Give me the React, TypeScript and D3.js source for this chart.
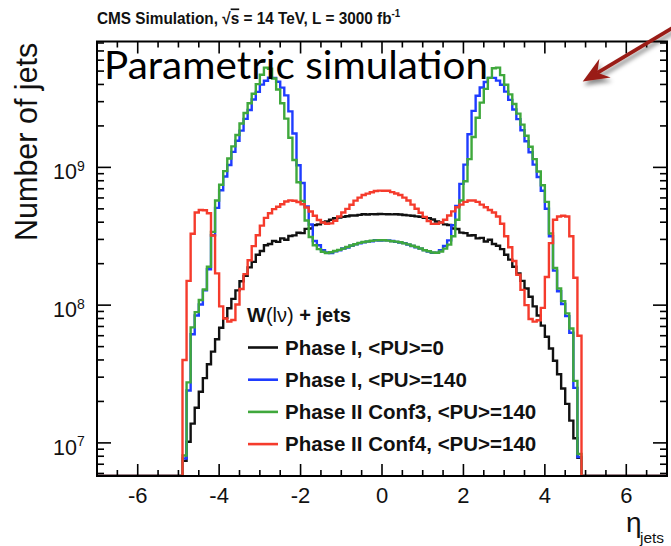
import React from "react";
import * as d3 from "d3";

const W = 671;
const H = 546;

// 98 bins of width 0.1 covering -4.9 < eta < 4.9; counts are in millions of jets per bin
const BIN_LOW = -4.9;
const BIN_WIDTH = 0.1;
const UNIT = 1e6;

const phase1PU0 = [
  7.4, 10.2, 13.8, 18.0, 23.5, 29.5, 37.2, 46.0, 56.5, 68.5,
  80.5, 95.0, 111, 128, 149, 163, 188, 206, 232, 247,
  272, 278, 292, 288, 305, 298, 318, 321, 335, 333,
  358, 360, 381, 386, 400, 405, 417, 427, 432, 437,
  442, 447, 447, 452, 457, 455, 458, 457, 459,
  458, 457, 456, 457, 455, 451, 448, 446, 441, 438,
  431, 428, 418, 405, 399, 386, 382, 360, 357, 336,
  333, 320, 322, 305, 308, 290, 298, 278, 270, 255,
  232, 214, 190, 170, 150, 132, 115, 98.0, 84.0, 71.0,
  59.0, 48.5, 39.5, 31.5, 24.8, 19.2, 14.5, 10.8, 7.8,
];

const phase1PU140 = [
  7.7, 24.0, 61.5, 84.0, 101, 128, 182, 322, 508, 682,
  858, 1040, 1295, 1560, 1850, 2250, 2610, 3110, 3530, 3990,
  4250, 4480, 4450, 4180, 3790, 3330, 2550, 1760, 1035, 770,
  520, 385, 292, 272, 250, 241, 239, 246, 250, 258,
  262, 270, 276, 281, 286, 289, 291, 296, 294,
  295, 295, 292, 288, 285, 282, 275, 269, 263, 257,
  251, 245, 240, 240, 251, 269, 295, 380, 525, 759,
  1047, 1738, 2570, 3311, 3802, 4169, 4467, 4467, 4266, 3981,
  3548, 3090, 2630, 2239, 1862, 1549, 1288, 1047, 851, 676,
  501, 316, 178, 126, 102, 83.2, 63.1, 25.1, 7.9,
];

const phase2Conf3 = [
  8.1, 27.5, 69.0, 89.0, 109, 130, 190, 340, 575, 748,
  940, 1160, 1420, 1720, 2080, 2480, 2920, 3420, 4020, 4700,
  5300, 5200, 4420, 3680, 2920, 2260, 1640, 1130, 780, 570,
  412, 312, 272, 255, 244, 239, 242, 247, 252, 257,
  264, 271, 277, 283, 287, 290, 293, 295, 296,
  296, 294, 291, 289, 286, 281, 276, 270, 264, 258,
  250, 246, 241, 240, 245, 257, 275, 316, 417, 575,
  794, 1148, 1660, 2291, 2951, 3715, 4467, 5250, 5300, 4677,
  3981, 3388, 2884, 2455, 2042, 1698, 1413, 1148, 933, 741,
  562, 331, 186, 132, 107, 87.1, 67.6, 28.2, 8.3,
];

const phase2Conf4 = [
  40, 150, 330, 470, 490, 488, 465, 320, 170, 98,
  80, 76, 78, 101, 131, 168, 212, 268, 322, 378,
  430, 465, 498, 518, 540, 565, 576, 572, 560, 540,
  512, 478, 445, 415, 398, 390, 392, 410, 440, 470,
  500, 535, 574, 603, 630, 645, 660, 674, 678,
  676, 676, 661, 646, 631, 603, 575, 537, 501, 468,
  437, 407, 389, 389, 398, 417, 447, 479, 513, 537,
  562, 575, 575, 562, 537, 513, 490, 470, 440, 390,
  316, 263, 209, 166, 129, 100, 79.4, 75.9, 77.6, 95.5,
  160, 282, 417, 440, 445, 440, 316, 158, 60,
];

const seriesValues = [phase1PU0, phase1PU140, phase2Conf3, phase2Conf4];
const seriesLabels = [
  "Phase I, <PU>=0",
  "Phase I, <PU>=140",
  "Phase II Conf3, <PU>=140",
  "Phase II Conf4, <PU>=140",
];
const seriesColors = ["#111111", "#1f3cff", "#3fa83c", "#f53b2c"];

const xMajorTicks = [-6, -4, -2, 0, 2, 4, 6];
const yDecades = [1e7, 1e8, 1e9];

const X_DOMAIN: [number, number] = [-7, 7];
const Y_DOMAIN: [number, number] = [5.75e6, 8.2e9];

const FONT = "'Liberation Sans', Arial, Helvetica, sans-serif";

export default function App() {
  const left = 97;
  const right = 667;
  const top = 41.5;
  const bottom = 476;

  const x = d3.scaleLinear().domain(X_DOMAIN).range([left, right]);
  const yFree = d3.scaleLog().domain(Y_DOMAIN).range([bottom, top]);
  const y = yFree.copy().clamp(true);

  const histPath = (vals: number[]) => {
    const pts: [number, number][] = [];
    pts.push([x(X_DOMAIN[0]), bottom]);
    pts.push([x(BIN_LOW), bottom]);
    vals.forEach((v, i) => {
      const yv = v > 0 ? y(v * UNIT) : bottom;
      pts.push([x(BIN_LOW + i * BIN_WIDTH), yv]);
      pts.push([x(BIN_LOW + (i + 1) * BIN_WIDTH), yv]);
    });
    pts.push([x(BIN_LOW + vals.length * BIN_WIDTH), bottom]);
    pts.push([x(X_DOMAIN[1]), bottom]);
    return d3.line()(pts) || "";
  };

  // minor ticks
  const xMinor = d3.range(-7, 7.001, 0.5).filter((t) => !xMajorTicks.includes(t));
  const yMinor: number[] = [];
  for (let e = 6; e <= 9; e++) {
    for (let m = 2; m <= 9; m++) {
      const v = m * Math.pow(10, e);
      if (v > Y_DOMAIN[0] && v < Y_DOMAIN[1]) yMinor.push(v);
    }
  }

  // annotation arrow, defined in data coordinates (tail lies outside the frame)
  const tail: [number, number] = [x(7.25), yFree(1.08e10)];
  const tip: [number, number] = [x(4.93), yFree(4.2e9)];
  const dx = tail[0] - tip[0];
  const dy = tail[1] - tip[1];
  const len = Math.hypot(dx, dy);
  const ux = dx / len;
  const uy = dy / len;
  const px = -uy;
  const py = ux;
  const headLen = 26;
  const headHalf = 11;
  const notch = 17;
  const back: [number, number] = [tip[0] + ux * headLen, tip[1] + uy * headLen];
  const head = [
    tip,
    [back[0] + px * headHalf, back[1] + py * headHalf],
    [tip[0] + ux * notch, tip[1] + uy * notch],
    [back[0] - px * headHalf, back[1] - py * headHalf],
  ] as [number, number][];
  const arrowColor = "#9a1d16";

  const legendX = 248;
  const legendY0 = 354.5;
  const legendStep = 32.2;

  return (
    <svg
      width={W}
      height={H}
      viewBox={`0 0 ${W} ${H}`}
      style={{ position: "absolute", left: 0, top: 0, background: "#fff", display: "block" }}
    >
      <defs>
        <clipPath id="plotArea">
          <rect x={left} y={top} width={right - left} height={bottom - top} />
        </clipPath>
        <filter id="arrowShadow" x="-30%" y="-30%" width="160%" height="180%">
          <feDropShadow dx="1.5" dy="4" stdDeviation="2.2" floodColor="#000" floodOpacity="0.45" />
        </filter>
      </defs>

      {/* title, slightly condensed */}
      <g transform="translate(97,24) scale(0.93,1)">
        <text x={0} y={0} fontFamily={FONT} fontWeight="bold" fontSize={16.5} fill="#111">
          CMS Simulation,  √<tspan textDecoration="overline">s</tspan> = 14 TeV, L = 3000 fb
          <tspan dy={-7} fontSize={10.5}>-1</tspan>
        </text>
      </g>

      {/* histograms */}
      <g clipPath="url(#plotArea)">
        {seriesValues.map((vals, i) => (
          <path
            key={i}
            d={histPath(vals)}
            fill="none"
            stroke={seriesColors[i]}
            strokeWidth={2.4}
            strokeLinejoin="miter"
          />
        ))}
      </g>

      {/* frame */}
      <rect
        x={left}
        y={top}
        width={right - left}
        height={bottom - top}
        fill="none"
        stroke="#000"
        strokeWidth={2}
      />

      {/* ticks on all four sides */}
      <g stroke="#000" strokeWidth={1.6}>
        {xMajorTicks.map((t) => (
          <g key={"xm" + t}>
            <line x1={x(t)} x2={x(t)} y1={bottom} y2={bottom - 12} />
            <line x1={x(t)} x2={x(t)} y1={top} y2={top + 12} />
          </g>
        ))}
        {xMinor.map((t) => (
          <g key={"xn" + t}>
            <line x1={x(t)} x2={x(t)} y1={bottom} y2={bottom - 6} />
            <line x1={x(t)} x2={x(t)} y1={top} y2={top + 6} />
          </g>
        ))}
        {yDecades.map((t) => (
          <g key={"ym" + t}>
            <line x1={left} x2={left + 14} y1={y(t)} y2={y(t)} />
            <line x1={right} x2={right - 14} y1={y(t)} y2={y(t)} />
          </g>
        ))}
        {yMinor.map((t) => (
          <g key={"yn" + t}>
            <line x1={left} x2={left + 7} y1={y(t)} y2={y(t)} />
            <line x1={right} x2={right - 7} y1={y(t)} y2={y(t)} />
          </g>
        ))}
      </g>

      {/* x tick labels */}
      {xMajorTicks.map((t) => (
        <text
          key={"xl" + t}
          x={x(t)}
          y={503}
          textAnchor="middle"
          fontFamily={FONT}
          fontSize={22}
          fill="#111"
        >
          {t < 0 ? "-" + Math.abs(t) : String(t)}
        </text>
      ))}

      {/* y tick labels */}
      {yDecades.map((t) => (
        <text key={"yl" + t} x={53} y={y(t) + 12} fontFamily={FONT} fontSize={21.5} fill="#111">
          10
          <tspan dy={-8.5} fontSize={14}>
            {Math.round(Math.log10(t))}
          </tspan>
        </text>
      ))}

      {/* axis titles */}
      <text
        transform={`translate(37,241) rotate(-90)`}
        fontFamily={FONT}
        fontSize={30.5}
        fill="#111"
      >
        Number of jets
      </text>
      <text x={626} y={532} fontFamily={FONT} fontSize={28} fill="#111">
        η
      </text>
      <text x={640} y={543} fontFamily={FONT} fontSize={15.5} fill="#111">
        jets
      </text>

      {/* legend */}
      <text x={legendX - 1} y={322} fontFamily={FONT} fontSize={20} fill="#111">
        <tspan fontWeight="bold">W</tspan>
        <tspan>(lν)</tspan>
        <tspan fontWeight="bold"> + jets</tspan>
      </text>
      {seriesLabels.map((lab, i) => {
        const by = legendY0 + i * legendStep;
        return (
          <g key={lab}>
            <line
              x1={legendX}
              x2={legendX + 30}
              y1={by - 7}
              y2={by - 7}
              stroke={seriesColors[i]}
              strokeWidth={2.6}
            />
            <text x={legendX + 37} y={by} fontFamily={FONT} fontWeight="bold" fontSize={20.5} fill="#111">
              {lab}
            </text>
          </g>
        );
      })}

      {/* annotation */}
      <text
        x={104}
        y={79}
        fontFamily="Lato, 'Open Sans', sans-serif"
        fontSize={38}
        textLength={384}
        lengthAdjust="spacingAndGlyphs"
        fill="#000"
      >
        Parametric simulation
      </text>
      <g filter="url(#arrowShadow)">
        <line
          x1={tail[0]}
          y1={tail[1]}
          x2={tip[0] + ux * notch}
          y2={tip[1] + uy * notch}
          stroke={arrowColor}
          strokeWidth={3.8}
        />
        <polygon points={head.map((p) => p.join(",")).join(" ")} fill={arrowColor} />
      </g>
    </svg>
  );
}
